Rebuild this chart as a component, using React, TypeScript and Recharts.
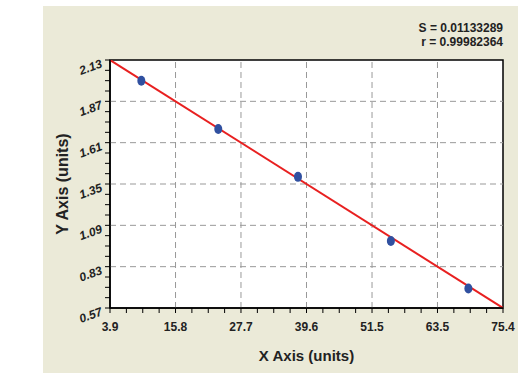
import React from "react";
import { ComposedChart, Scatter, Line, XAxis, YAxis, ReferenceLine, ReferenceArea, Label } from "recharts";

const xValues = [9.6, 23.6, 38.1, 55.0, 69.1];
const yValues = [2.0, 1.696, 1.395, 0.991, 0.693];

const fitX = [3.9, 75.4];
const fitY = [2.13, 0.57];

const xMajor = [3.9, 15.82, 27.73, 39.65, 51.57, 63.48, 75.4];
const xLabels = ["3.9", "15.8", "27.7", "39.6", "51.5", "63.5", "75.4"];
const yMajor = [0.57, 0.83, 1.09, 1.35, 1.61, 1.87, 2.13];
const yLabels = ["0.57", "0.83", "1.09", "1.35", "1.61", "1.87", "2.13"];

const statLines = ["S = 0.01133289", "r = 0.99982364"];

const points = xValues.map((x, i) => ({ x, y: yValues[i] }));
const fitLine = fitX.map((x, i) => ({ x, y: fitY[i] }));

// 4 subdivisions between major ticks
function withMinor(major: number[]) {
    const out: number[] = [];
    for (let i = 0; i < major.length; i++) {
        out.push(major[i]);
        if (i < major.length - 1) {
            const step = (major[i + 1] - major[i]) / 4;
            for (let k = 1; k < 4; k++) out.push(major[i] + step * k);
        }
    }
    return out;
}

const xTicks = withMinor(xMajor);
const yTicks = withMinor(yMajor);

const PLOT_LEFT = 110;
const PLOT_BOTTOM = 308;
const FONT = "'Liberation Sans', Arial, sans-serif";

function XTick(props: any) {
    const { x, payload } = props;
    const idx = xMajor.findIndex((m) => Math.abs(m - payload.value) < 1e-6);
    return (
        <g>
            <line x1={x} x2={x} y1={PLOT_BOTTOM} y2={PLOT_BOTTOM + 5} stroke="#000" strokeWidth={1} />
            {idx >= 0 && (
                <text x={x} y={PLOT_BOTTOM + 23} textAnchor="middle" fontSize={12} fontWeight="bold" fill="#222" fontFamily={FONT}>
                    {xLabels[idx]}
                </text>
            )}
        </g>
    );
}

function YTick(props: any) {
    const { y, payload } = props;
    const idx = yMajor.findIndex((m) => Math.abs(m - payload.value) < 1e-6);
    const px = PLOT_LEFT - 7;
    const py = y + 7;
    return (
        <g>
            <line x1={PLOT_LEFT - 5} x2={PLOT_LEFT} y1={y} y2={y} stroke="#000" strokeWidth={1} />
            {idx >= 0 && (
                <text x={px} y={py} textAnchor="end" fontSize={12} fontWeight="bold" fontStyle="italic" fill="#222" fontFamily={FONT} transform={`rotate(-20, ${px}, ${py})`}>
                    {yLabels[idx]}
                </text>
            )}
        </g>
    );
}

function Dot(props: any) {
    const { cx, cy } = props;
    return <ellipse cx={cx} cy={cy} rx={4} ry={5} fill="#3050a0" />;
}

export default function App() {
    return (
        <div style={{ position: "absolute", left: 0, top: 0, width: 522, height: 379, background: "#fff" }}>
            <div style={{ position: "absolute", left: 43, top: 6, width: 475, height: 367, background: "#ebead8" }} />
            <div style={{ position: "absolute", right: 19, top: 21, textAlign: "right", fontFamily: FONT, fontWeight: "bold", fontSize: 12, lineHeight: "14px", color: "#222" }}>
                {statLines.map((s) => (
                    <div key={s}>{s}</div>
                ))}
            </div>
            <div style={{ position: "absolute", left: 0, top: 0 }}>
                <ComposedChart width={522} height={379} margin={{ top: 60, right: 19, bottom: 0, left: 0 }}>
                    <ReferenceArea x1={3.9} x2={75.4} y1={0.57} y2={2.13} fill="#fff" fillOpacity={1} stroke="none" />
                    {xMajor.slice(1, -1).map((v) => (
                        <ReferenceLine key={"vx" + v} x={v} stroke="#999" strokeDasharray="6 4" />
                    ))}
                    {yMajor.slice(1, -1).map((v) => (
                        <ReferenceLine key={"hy" + v} y={v} stroke="#999" strokeDasharray="6 4" />
                    ))}
                    <XAxis
                        type="number"
                        dataKey="x"
                        domain={[3.9, 75.4]}
                        ticks={xTicks}
                        interval={0}
                        tick={<XTick />}
                        tickLine={false}
                        axisLine={{ stroke: "#000", strokeWidth: 1.5 }}
                        height={71}
                        allowDataOverflow
                    >
                        <Label value="X Axis (units)" position="insideBottom" offset={18} style={{ fontSize: 15, fontWeight: "bold", fill: "#222", fontFamily: FONT }} />
                    </XAxis>
                    <YAxis
                        type="number"
                        dataKey="y"
                        domain={[0.57, 2.13]}
                        ticks={yTicks}
                        interval={0}
                        tick={<YTick />}
                        tickLine={false}
                        axisLine={{ stroke: "#000", strokeWidth: 1.5 }}
                        width={110}
                        allowDataOverflow
                    >
                        <Label value="Y Axis (units)" angle={-90} position="center" dx={7} style={{ fontSize: 16, fontWeight: "bold", fill: "#222", fontFamily: FONT, textAnchor: "middle" }} />
                    </YAxis>
                    <ReferenceArea x1={3.9} x2={75.4} y1={0.57} y2={2.13} fill="none" stroke="#000" strokeWidth={1.5} />
                    <Line data={fitLine} dataKey="y" type="linear" stroke="#e82020" strokeWidth={2} dot={false} isAnimationActive={false} />
                    <Scatter data={points} dataKey="y" shape={<Dot />} isAnimationActive={false} />
                </ComposedChart>
            </div>
        </div>
    );
}
